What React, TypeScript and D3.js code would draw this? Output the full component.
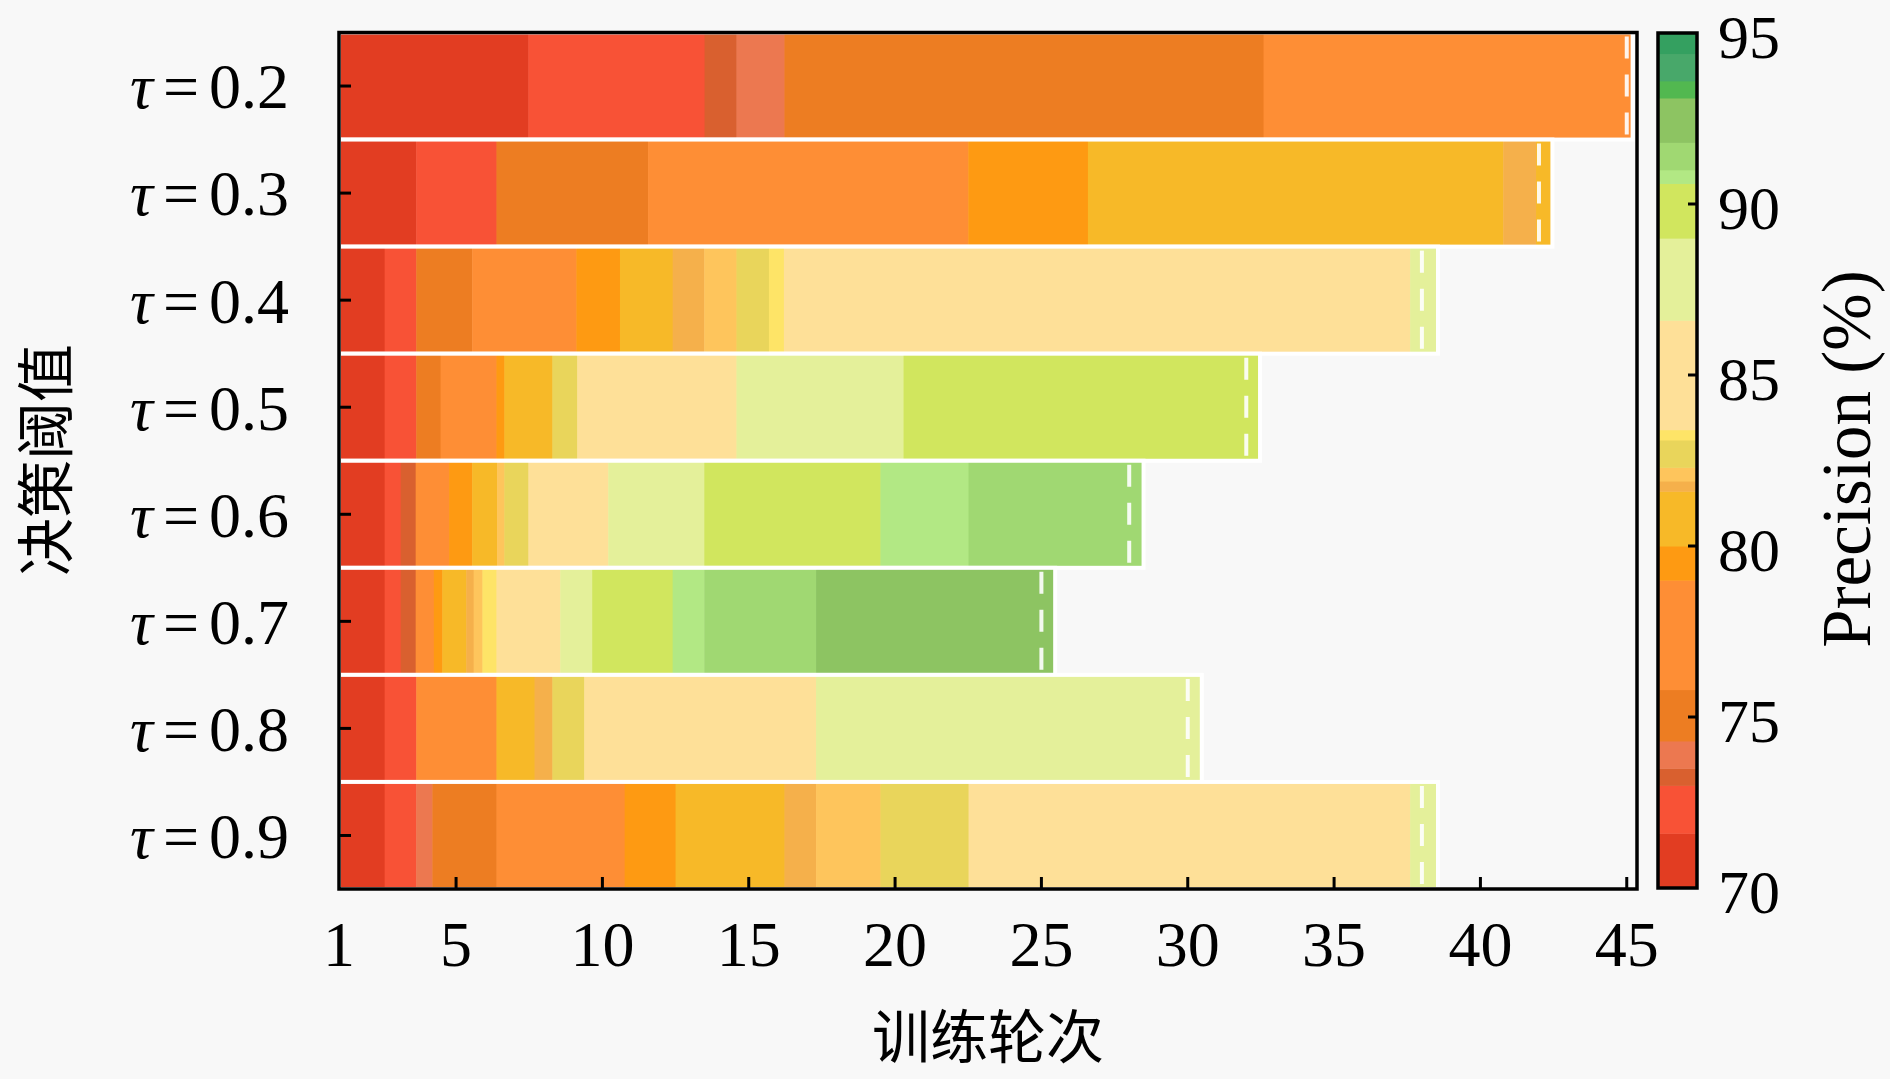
import React from 'react';
import * as d3 from 'd3';

// ---- data ----
const taus = ['0.2', '0.3', '0.4', '0.5', '0.6', '0.7', '0.8', '0.9'];
const bestEpoch = [45, 42, 38, 32, 28, 25, 30, 38];

// segment end epochs (each bar starts at epoch 1) and precision (%) of each segment
const ends02 = [7.47, 13.49, 14.58, 16.22, 32.59, 45.2];
const prec02 = [71, 72.3, 73.2, 73.9, 75, 77.5];
const ends03 = [3.64, 6.38, 11.56, 22.5, 26.59, 40.78, 41.9, 42.46];
const prec03 = [71, 72.3, 75, 77.5, 79.5, 81, 81.8, 81];
const ends04 = [2.56, 3.64, 5.55, 9.11, 10.6, 12.4, 13.48, 14.58, 15.69, 16.2, 37.6, 38.55];
const prec04 = [71, 72.3, 75, 77.5, 79.5, 81, 81.8, 82.1, 82.7, 83.25, 85, 87.8];
const ends05 = [2.56, 3.64, 4.47, 6.38, 6.65, 8.29, 9.14, 14.58, 20.29, 32.47];
const prec05 = [71, 72.3, 75, 77.5, 79.5, 81, 82.7, 85, 87.8, 89.9];
const ends06 = [2.56, 3.11, 3.62, 4.76, 5.55, 6.4, 6.65, 7.47, 10.2, 13.48, 19.5, 22.51, 28.49];
const prec06 = [71, 72.3, 73.2, 77.5, 79.5, 81, 82.1, 82.7, 85, 87.8, 89.9, 90.8, 91.4];
const ends07 = [2.56, 3.11, 3.62, 4.24, 4.53, 5.35, 5.6, 5.9, 6.38, 8.56, 9.65, 12.4, 13.48, 17.3, 25.47];
const prec07 = [71, 72.3, 73.2, 77.5, 79.5, 81, 81.8, 82.1, 83.25, 85, 87.8, 89.9, 90.8, 91.4, 92.4];
const ends08 = [2.56, 3.64, 6.38, 7.68, 8.29, 9.38, 17.3, 30.48];
const prec08 = [71, 72.3, 77.5, 81, 81.8, 82.7, 85, 87.8];
const ends09 = [2.56, 3.64, 4.19, 6.38, 10.76, 12.5, 16.22, 17.3, 19.5, 22.51, 37.6, 38.55];
const prec09 = [71, 72.3, 73.9, 75, 77.5, 79.5, 81, 81.8, 82.1, 82.7, 85, 87.8];

const rowEnds = [ends02, ends03, ends04, ends05, ends06, ends07, ends08, ends09];
const rowPrec = [prec02, prec03, prec04, prec05, prec06, prec07, prec08, prec09];

// discrete colour map (bin edges, colours)
const cbBreaks = [70, 71.6, 73.0, 73.5, 74.3, 75.8, 79.0, 80.0, 81.6, 81.9, 82.3, 83.1, 83.4, 86.6, 89.0, 90.6, 91.0, 91.8, 93.1, 93.6, 94.4, 95];
const cbColors = ['#e23d22', '#f85236', '#d9602f', '#ec7850', '#ed7d22', '#fe8e35', '#fe9a12', '#f7b928', '#f5b04b', '#fec55c', '#e9d55b', '#fee467', '#fee098', '#e4f09a', '#d1e65e', '#b2e884', '#a0d872', '#8dc462', '#52b850', '#48a86a', '#34a060'];

const xTicks = [1, 5, 10, 15, 20, 25, 30, 35, 40, 45];
const cbTicks = [70, 75, 80, 85, 90, 95];

const W = 1890;
const H = 1079;
const serif = '"Liberation Serif", "DejaVu Serif", serif';
const cjk = '"Noto Sans CJK SC", sans-serif';

export default function App() {
  const plotL = 339, plotR = 1637, plotT = 32.5, plotB = 889;
  const x = d3.scaleLinear().domain([1, 45.35]).range([plotL, plotR]);
  const y = d3.scaleBand<string>().domain(taus).range([plotT, plotB]).paddingInner(0).paddingOuter(0);
  const color = d3.scaleThreshold<number, string>().domain(cbBreaks.slice(1, -1)).range(cbColors);
  const cbL = 1658, cbW = 39;
  const cy = d3.scaleLinear().domain([70, 95]).range([888, 33]);
  const bw = y.bandwidth();

  return (
    <div style={{ position: 'absolute', left: 0, top: 0 }}>
      <svg width={W} height={H} style={{ display: 'block' }}>
        <rect x={0} y={0} width={W} height={H} fill="#f8f8f8" />
        <defs>
          <clipPath id="plotclip">
            <rect x={plotL} y={plotT} width={plotR - plotL} height={plotB - plotT} />
          </clipPath>
        </defs>
        <g clipPath="url(#plotclip)">
          {taus.map((t, i) => {
            const ends = rowEnds[i];
            const precs = rowPrec[i];
            const y0 = y(t)!;
            return (
              <g key={t}>
                {ends.map((e, j) => {
                  const s = j === 0 ? 1 : ends[j - 1];
                  return (
                    <rect key={j} x={x(s)} y={y0} width={x(e) - x(s) + 0.5} height={bw} fill={color(precs[j])} />
                  );
                })}
                <rect x={x(1)} y={y0} width={x(ends[ends.length - 1]) - x(1)} height={bw} fill="none" stroke="#ffffff" strokeWidth={4} />
                <line x1={x(bestEpoch[i])} x2={x(bestEpoch[i])} y1={y0 + 4} y2={y0 + bw - 4} stroke="#ffffff" strokeWidth={4} strokeDasharray="22 16" opacity={0.9} />
              </g>
            );
          })}
        </g>
        {/* frame */}
        <rect x={plotL} y={plotT} width={plotR - plotL} height={plotB - plotT} fill="none" stroke="#000" strokeWidth={3.5} />
        {/* y ticks */}
        {taus.map((t) => {
          const yc = y(t)! + bw / 2;
          return (
            <g key={t}>
              <line x1={plotL} x2={plotL + 12} y1={yc} y2={yc} stroke="#000" strokeWidth={3} />
              <text x={289} y={yc} dy="0.35em" textAnchor="end" fontFamily={serif} fontSize={64} fill="#000">
                <tspan fontStyle="italic">τ</tspan>
                <tspan dx={10}>=</tspan>
                <tspan dx={10}>{t}</tspan>
              </text>
            </g>
          );
        })}
        {/* x ticks */}
        {xTicks.map((v) => (
          <g key={v}>
            {v !== 1 && <line x1={x(v)} x2={x(v)} y1={plotB} y2={plotB - 12} stroke="#000" strokeWidth={3} />}
            <text x={x(v)} y={966} textAnchor="middle" fontFamily={serif} fontSize={64} fill="#000">{v}</text>
          </g>
        ))}
        <text x={(plotL + plotR) / 2} y={1038} dy="0.35em" textAnchor="middle" fontFamily={cjk} fontSize={58} fill="#000">训练轮次</text>
        <text transform={`translate(47,460) rotate(-90)`} dy="0.35em" textAnchor="middle" fontFamily={cjk} fontSize={58} fill="#000">决策阈值</text>
        {/* colorbar */}
        {cbColors.map((c, k) => (
          <rect key={k} x={cbL} y={cy(cbBreaks[k + 1])} width={cbW} height={cy(cbBreaks[k]) - cy(cbBreaks[k + 1]) + 0.5} fill={c} />
        ))}
        <rect x={cbL} y={cy(95)} width={cbW} height={cy(70) - cy(95)} fill="none" stroke="#000" strokeWidth={3.5} />
        {cbTicks.map((v) => (
          <g key={v}>
            {v !== 70 && v !== 95 && <line x1={cbL + cbW} x2={cbL + cbW - 9} y1={cy(v)} y2={cy(v)} stroke="#000" strokeWidth={3} />}
            <text x={1718} y={cy(v) + 3} dy="0.35em" fontFamily={serif} fontSize={62} fill="#000">{v}</text>
          </g>
        ))}
        <text transform={`translate(1846,459) rotate(-90)`} dy="0.35em" textAnchor="middle" fontFamily={serif} fontSize={69} fill="#000">Precision (%)</text>
      </svg>
    </div>
  );
}
